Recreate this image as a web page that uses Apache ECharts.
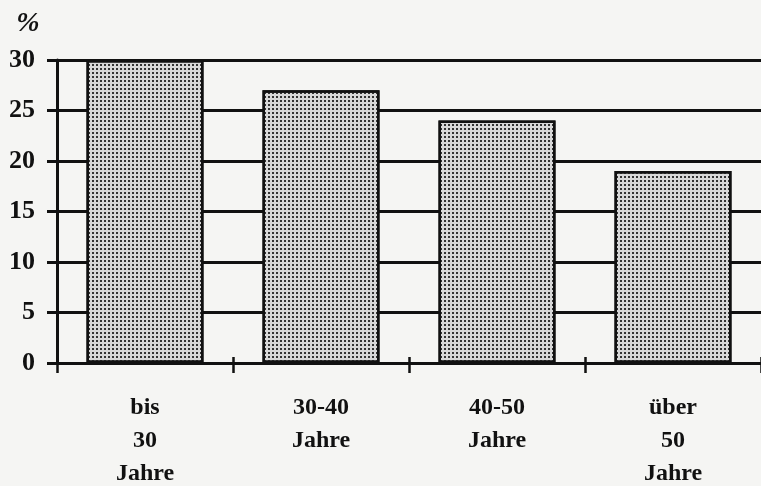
<!DOCTYPE html>
<html><head><meta charset="utf-8">
<style>html,body{margin:0;padding:0;background:#f5f5f3;}#c{width:761px;height:486px;}</style>
<script src="https://cdn.jsdelivr.net/npm/echarts@6/dist/echarts.min.js"></script>
</head><body><div id="c"></div>
<script>
const categories = ['bis\n30\nJahre', '30-40\nJahre', '40-50\nJahre', 'über\n50\nJahre'];
const values = [30, 27, 24, 19];
const yTicks = { min: 0, max: 30, interval: 5 };

const chart = echarts.init(document.getElementById('c'), null, { renderer: 'canvas' });
const font = '"Liberation Serif", "DejaVu Serif", serif';
chart.setOption({
  backgroundColor: '#f5f5f3',
  animation: false,
  grid: { left: 57, right: 0, top: 60, bottom: 123, containLabel: false, outerBoundsMode: 'none' },
  xAxis: [{
    type: 'category',
    data: categories,
    position: 'bottom',
    axisLine: { lineStyle: { color: '#111', width: 3 } },
    axisTick: { show: true, length: 10, lineStyle: { color: '#111', width: 2.5 } },
    axisLabel: { color: '#111', fontFamily: font, fontSize: 24, fontWeight: 'bold', lineHeight: 33, margin: 28 },
    splitLine: { show: false }
  }, {
    type: 'category',
    data: categories,
    position: 'bottom',
    offset: 0,
    axisLine: { show: false },
    axisTick: { show: true, inside: true, length: 6, lineStyle: { color: '#111', width: 2.5 } },
    axisLabel: { show: false },
    splitLine: { show: false }
  }],
  yAxis: {
    type: 'value',
    min: yTicks.min, max: yTicks.max, interval: yTicks.interval,
    name: '%',
    nameLocation: 'end',
    nameGap: 22,
    nameTextStyle: { color: '#111', fontFamily: font, fontSize: 28, fontStyle: 'italic', fontWeight: 'bold', align: 'center', padding: [0, 0, 0, -58] },
    axisLine: { show: true, lineStyle: { color: '#111', width: 3 } },
    axisTick: { show: true, length: 10, lineStyle: { color: '#111', width: 3 } },
    axisLabel: { color: '#111', fontFamily: font, fontSize: 26, fontWeight: 'bold', margin: 22, padding: [0, 0, 4, 0] },
    splitLine: { show: true, lineStyle: { color: '#111', width: 3 } }
  },
  series: [{
    type: 'bar',
    xAxisIndex: 0,
    data: values,
    barWidth: 117,
    itemStyle: {
      color: '#d8d8d8',
      borderColor: '#111',
      borderWidth: 2.5,
      decal: { symbol: 'rect', symbolSize: 1, dashArrayX: [[1.5, 1.5]], dashArrayY: [1.5, 1.5], color: '#333', rotation: 0 }
    }
  }]
});
</script></body></html>
